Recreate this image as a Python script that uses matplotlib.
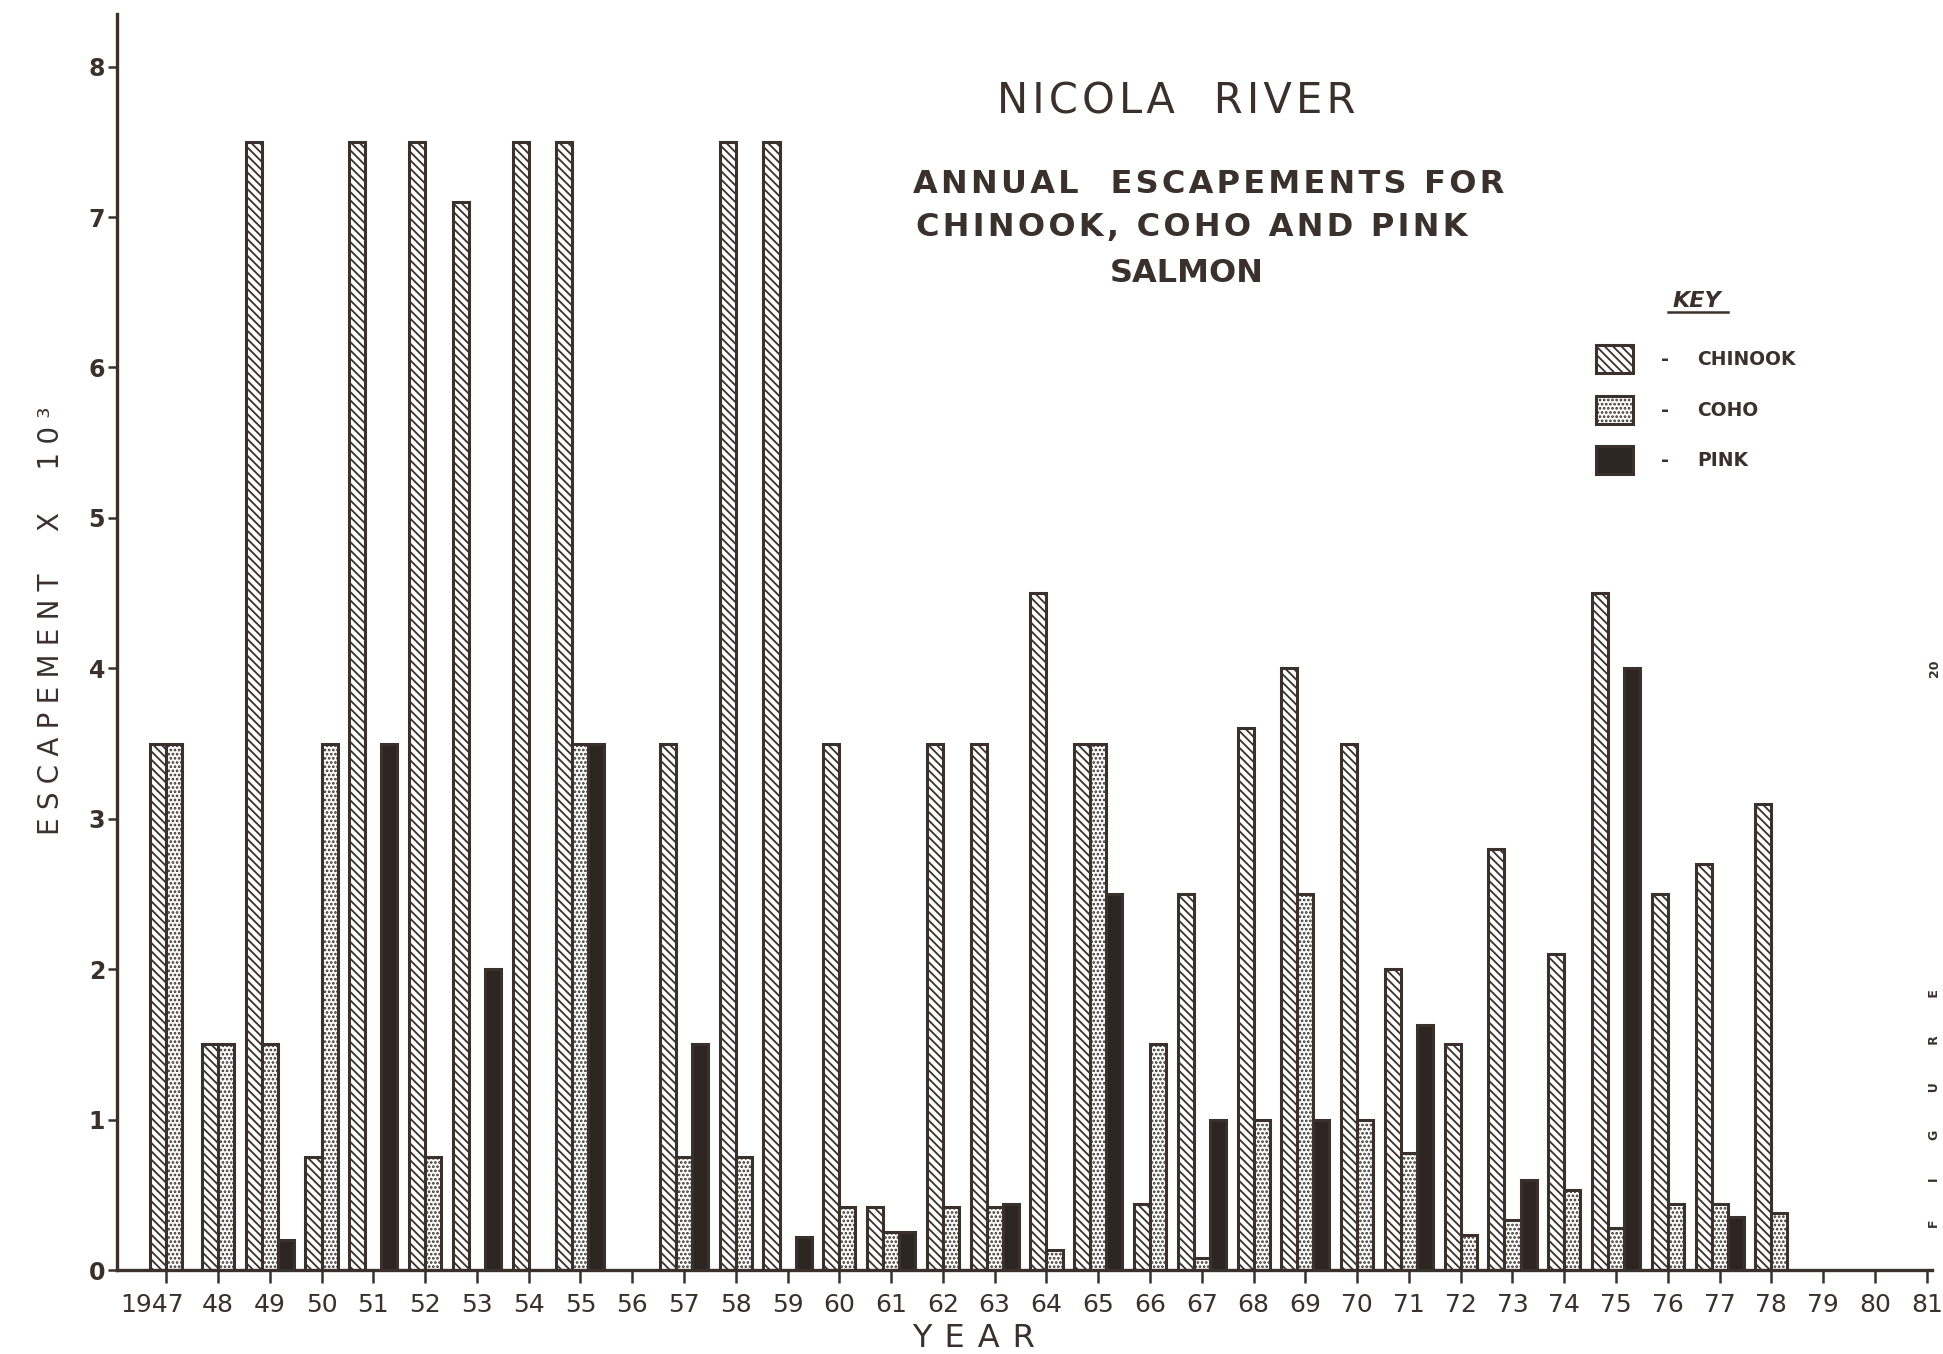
import matplotlib.pyplot as plt
import matplotlib.transforms as mtransforms
from matplotlib.patches import Rectangle
from matplotlib.lines import Line2D

INK = "#3a302c"
HAIR = "\u200a"
THIN = "\u2009"

# escapement in thousands (None = no pink run that year)
years = list(range(1947, 1979))
chinook = [3.5, 1.5, 7.5, 0.75, 7.5, 7.5, 7.1, 7.5, 7.5, 0, 3.5, 7.5, 7.5, 3.5, 0.42, 3.5,
           3.5, 4.5, 3.5, 0.44, 2.5, 3.6, 4.0, 3.5, 2.0, 1.5, 2.8, 2.1, 4.5, 2.5, 2.7, 3.1]
coho = [3.5, 1.5, 1.5, 3.5, 0, 0.75, 0, 0, 3.5, 0, 0.75, 0.75, 0, 0.42, 0.25, 0.42,
        0.42, 0.13, 3.5, 1.5, 0.08, 1.0, 2.5, 1.0, 0.78, 0.23, 0.33, 0.53, 0.28, 0.44, 0.44, 0.38]
pink = [None, None, 0.2, None, 3.5, None, 2.0, None, 3.5, None, 1.5, None, 0.22, None, 0.25, None,
        0.44, None, 2.5, None, 1.0, None, 1.0, None, 1.63, None, 0.6, None, 4.0, None, 0.35, None]
axis_years = list(range(1947, 1982))

species = ["CHINOOK", "COHO", "PINK"]
styles = {
    "CHINOOK": dict(facecolor="white", hatch="\\\\\\\\"),
    "COHO": dict(facecolor="white", hatch="...."),
    "PINK": dict(facecolor="#2c2522", hatch=None),
}

plt.rcParams["font.family"] = "DejaVu Sans"
plt.rcParams["hatch.linewidth"] = 1.3

fig = plt.figure(figsize=(19.43, 13.54), dpi=100, facecolor="white")
ax = fig.add_axes([0.0602, 0.062, 0.9341, 0.9277])

W = 0.31
pos = {s: [] for s in species}
val = {s: [] for s in species}
for i, yr in enumerate(years):
    if pink[i] is None:
        offs = {"CHINOOK": -W / 2, "COHO": W / 2}
    else:
        offs = {"CHINOOK": -W, "COHO": 0, "PINK": W}
    vals = {"CHINOOK": chinook[i], "COHO": coho[i], "PINK": pink[i]}
    for s, o in offs.items():
        if vals[s]:
            pos[s].append(yr + o)
            val[s].append(vals[s])

for s in species:
    ax.bar(pos[s], val[s], width=W, edgecolor=INK, linewidth=2.2, **styles[s])

ax.set_xlim(1946.05, 1981.1)
ax.set_ylim(0, 8.35)
for side in ["top", "right"]:
    ax.spines[side].set_visible(False)
for side in ["left", "bottom"]:
    ax.spines[side].set_linewidth(2.4)
    ax.spines[side].set_color(INK)

ax.set_yticks(range(0, 9))
ax.set_yticklabels([str(v) for v in range(0, 9)], fontsize=17, fontweight="bold", color=INK)
ax.set_xticks(axis_years)
ax.set_xticklabels(["1947"] + [f"{y % 100:02d}" for y in axis_years[1:]], fontsize=18, color=INK)
ax.tick_params(axis="x", direction="out", length=9.5, width=1.8, color=INK, pad=7)
ax.tick_params(axis="y", direction="out", length=6.5, width=1.8, color=INK, pad=2)

# "19" hangs to the left of the first tick
lab = ax.get_xticklabels()[0]
lab.set_transform(lab.get_transform() + mtransforms.ScaledTranslation(-0.14, 0, fig.dpi_scale_trans))

renderer = fig.canvas.get_renderer()


def fit_text(x, y, s, target, gap=HAIR, kmax=12, **kw):
    # widen the lettering with extra spaces until it spans about `target` pixels
    best, err = s, 1e9
    for k in range(0, kmax):
        txt = (gap * k).join(s) if k else s
        t = fig.text(x, y, txt, **kw)
        bb = t.get_window_extent(renderer)
        size = bb.height if kw.get("rotation") else bb.width
        t.remove()
        if abs(size - target) < err:
            best, err = txt, abs(size - target)
    return fig.text(x, y, best, **kw)


def fx(px):
    return px / 1943


def fy(px):
    return 1 - px / 1354


fit_text(fx(1176), fy(113), "NICOLA  RIVER", 377, fontsize=30, color=INK, ha="center", va="baseline")
fit_text(fx(913), fy(193), "ANNUAL  ESCAPEMENTS FOR", 583, fontsize=23, fontweight="bold",
         color=INK, ha="left", va="baseline")
fit_text(fx(916), fy(236), "CHINOOK, COHO AND PINK", 533, fontsize=23, fontweight="bold",
         color=INK, ha="left", va="baseline")
fit_text(fx(1187), fy(282), "SALMON", 157, fontsize=23, fontweight="bold",
         color=INK, ha="center", va="baseline")
fit_text(fx(974), fy(1347), "YEAR", 123, fontsize=23, color=INK, ha="center", va="baseline")
fit_text(fx(51), fy(621), "ESCAPEMENT  X  10\u00b3", 448, fontsize=20, rotation=90,
         color=INK, ha="center", va="center")
# page caption running down the right edge of the scan
fit_text(fx(1941), fy(1109), "FIGURE", 236, gap=THIN, kmax=30, fontsize=9, rotation=90,
         fontweight="bold", color=INK, ha="right", va="center")
fig.text(fx(1941), fy(668), "20", fontsize=9, rotation=90, fontweight="bold", color=INK,
         ha="right", va="center")

# key
fig.text(fx(1697), fy(307), "KEY", fontsize=16, fontweight="bold", style="italic",
         color=INK, ha="center", va="baseline")
fig.add_artist(Line2D([fx(1668), fx(1728)], [fy(312), fy(312)], color=INK, lw=1.8,
                      transform=fig.transFigure))
for s, cy in zip(species, [359, 410, 460]):
    fig.add_artist(Rectangle((fx(1596), fy(cy + 14)), fx(37), 28 / 1354, transform=fig.transFigure,
                             edgecolor=INK, linewidth=2.2, **styles[s]))
    fig.text(fx(1665), fy(cy + 6), "-", fontsize=14, fontweight="bold", color=INK,
             ha="center", va="baseline")
    fig.text(fx(1697), fy(cy + 6), s, fontsize=13.5, fontweight="bold", color=INK,
             ha="left", va="baseline")

fig.savefig("out.png", dpi=100, facecolor="white")
